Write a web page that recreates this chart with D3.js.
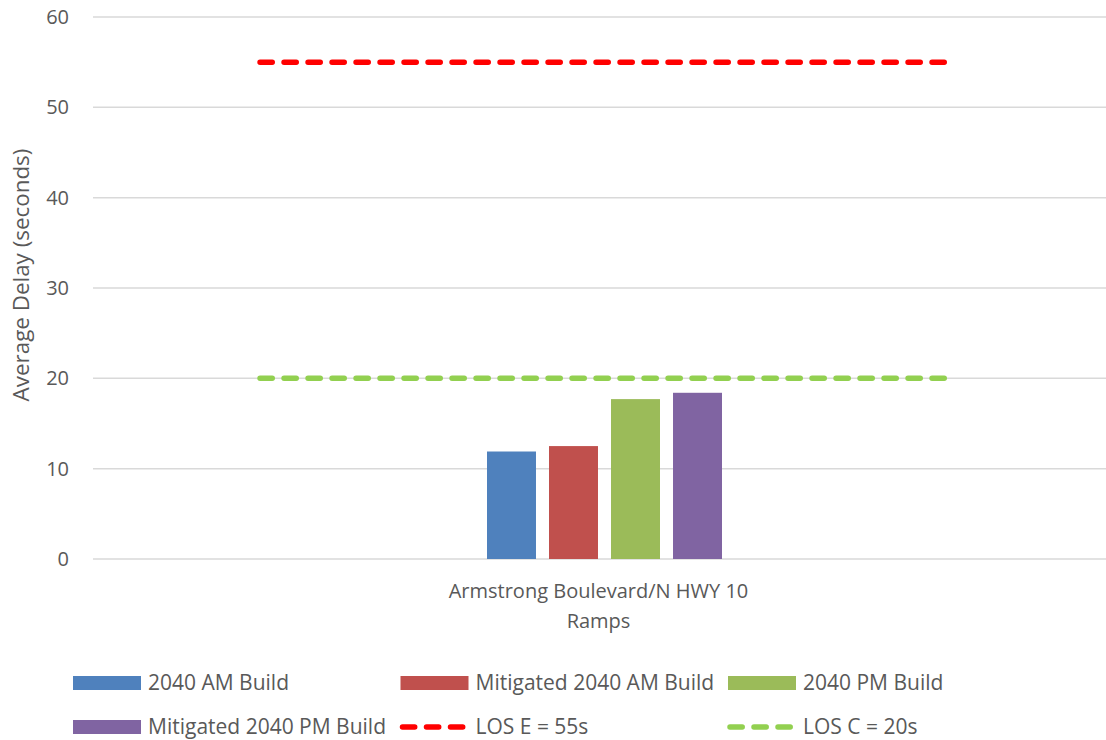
<!DOCTYPE html>
<html>
<head>
<meta charset="utf-8">
<script src="https://cdn.jsdelivr.net/npm/d3@7"></script>
<style>
  body { margin: 0; background: #fff; }
  text { font-family: "Open Sans", "Noto Sans", sans-serif; fill: #595959; }
</style>
</head>
<body>
<div id="visual"></div>
<script>
var w = 1106, h = 740;

// data
var categories = ["Armstrong Boulevard/N HWY 10 Ramps"];
var series = ["2040 AM Build", "Mitigated 2040 AM Build", "2040 PM Build", "Mitigated 2040 PM Build"];
var values = [11.9, 12.5, 17.7, 18.4];
var thresholdNames = ["LOS E = 55s", "LOS C = 20s"];
var thresholdValues = [55, 20];
var yTicks = [0, 10, 20, 30, 40, 50, 60];

var barColors = ["#4F81BD", "#C0504D", "#9BBB59", "#8064A2"];
var lineColors = ["#FF0000", "#92D050"];

var margin = {left: 93, right: 0, top: 17, bottom: 181};

var svg = d3.select("#visual").append("svg")
  .attr("width", w)
  .attr("height", h);

var y = d3.scaleLinear().domain([0, 60]).range([h - margin.bottom, margin.top]);
var x0 = d3.scaleBand().domain(categories).range([margin.left, w - margin.right]);
// plot-fraction scale for the threshold lines
var xf = d3.scaleLinear().domain([0, 1]).range([margin.left, w - margin.right]);

// gridlines
svg.append("g").selectAll("line")
  .data(yTicks)
  .enter().append("line")
  .attr("x1", margin.left).attr("x2", w - margin.right)
  .attr("y1", function(d){ return y(d); })
  .attr("y2", function(d){ return y(d); })
  .style("stroke", "#d9d9d9")
  .style("stroke-width", 1.5);

// y tick labels
svg.append("g").selectAll("text")
  .data(yTicks)
  .enter().append("text")
  .attr("x", 69)
  .attr("y", function(d){ return y(d); })
  .attr("dy", "0.35em")
  .attr("text-anchor", "end")
  .style("font-size", "20px")
  .text(function(d){ return d; });

// y title
svg.append("text")
  .attr("transform", "translate(29,275) rotate(-90)")
  .attr("text-anchor", "middle")
  .style("font-size", "22.4px")
  .text("Average Delay (seconds)");

// bars
var groupCenter = x0(categories[0]) + x0.bandwidth() / 2 + 5;
var x1 = d3.scaleBand().domain(series)
  .range([groupCenter - 117.5, groupCenter + 117.5])
  .paddingInner(0.21);

svg.append("g").selectAll("rect")
  .data(values)
  .enter().append("rect")
  .attr("x", function(d, i){ return x1(series[i]); })
  .attr("width", x1.bandwidth())
  .attr("y", function(d){ return y(d); })
  .attr("height", function(d){ return y(0) - y(d); })
  .style("fill", function(d, i){ return barColors[i]; });

// threshold dashed lines
svg.append("g").selectAll("line")
  .data(thresholdValues)
  .enter().append("line")
  .attr("x1", xf(0.1649)).attr("x2", xf(0.8440))
  .attr("y1", function(d){ return y(d); })
  .attr("y2", function(d){ return y(d); })
  .style("stroke", function(d, i){ return lineColors[i]; })
  .style("stroke-width", 5.5)
  .style("stroke-linecap", "round")
  .style("stroke-dasharray", "12.2,11.8");

// category label
var cx = x0(categories[0]) + x0.bandwidth() / 2 - 1;
var catText = svg.append("text")
  .attr("x", cx)
  .attr("y", 598)
  .attr("text-anchor", "middle")
  .style("font-size", "20px");
catText.append("tspan").attr("x", cx).text("Armstrong Boulevard/N HWY 10");
catText.append("tspan").attr("x", cx).attr("dy", 30).text("Ramps");

// legend
var legendItems = [];
series.forEach(function(s, i){ legendItems.push({name: s, color: barColors[i], type: "bar"}); });
thresholdNames.forEach(function(s, i){ legendItems.push({name: s, color: lineColors[i], type: "line"}); });

var legend = svg.append("g").selectAll("g")
  .data(legendItems)
  .enter().append("g")
  .attr("transform", function(d, i){
    return "translate(" + (73 + (i % 3) * 327.5) + "," + (683 + Math.floor(i / 3) * 44) + ")";
  });

legend.filter(function(d){ return d.type == "bar"; })
  .append("rect")
  .attr("x", 0).attr("y", -7)
  .attr("width", 68).attr("height", 14)
  .style("fill", function(d){ return d.color; });

legend.filter(function(d){ return d.type == "line"; })
  .append("line")
  .attr("x1", 2).attr("x2", 64)
  .attr("y1", 0).attr("y2", 0)
  .style("stroke", function(d){ return d.color; })
  .style("stroke-width", 5.5)
  .style("stroke-linecap", "round")
  .style("stroke-dasharray", "12.2,11.8");

legend.append("text")
  .attr("x", 75)
  .attr("y", 0)
  .attr("dy", "0.35em")
  .style("font-size", "21px")
  .text(function(d){ return d.name; });
</script>
</body>
</html>
